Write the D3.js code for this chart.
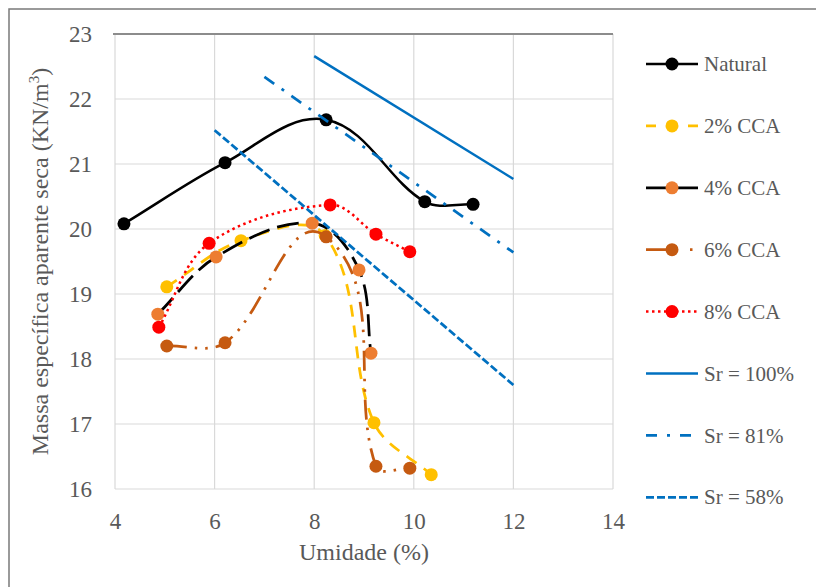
<!DOCTYPE html>
<html><head><meta charset="utf-8">
<script src="https://cdn.jsdelivr.net/npm/d3@7"></script>
<style>html,body{margin:0;padding:0;background:#fff;}svg{display:block;}</style>
</head><body>
<svg id="chart" width="816" height="587"></svg>
<script>
// ---- data ----
const xTicks = [4, 6, 8, 10, 12, 14];
const yTicks = [16, 17, 18, 19, 20, 21, 22, 23];

const naturalW = [4.18, 6.21, 8.24, 10.22, 11.19];
const naturalD = [20.08, 21.02, 21.68, 20.42, 20.38];
const cca2W = [5.04, 6.53, 8.22, 9.20, 10.35];
const cca2D = [19.11, 19.82, 19.90, 17.02, 16.22];
const cca4W = [4.86, 6.03, 7.96, 8.90, 9.14];
const cca4D = [18.69, 19.57, 20.09, 19.37, 18.09];
const cca6W = [5.04, 6.21, 8.24, 9.24, 9.92];
const cca6D = [18.20, 18.25, 19.88, 16.35, 16.32];
const cca8W = [4.88, 5.89, 8.32, 9.24, 9.92];
const cca8D = [18.49, 19.78, 20.37, 19.92, 19.65];
const sr100W = [8, 12];
const sr100D = [22.66, 20.77];
const sr81W = [7, 12];
const sr81D = [22.34, 19.64];
const sr58W = [6, 12];
const sr58D = [21.52, 17.60];

const seriesNames = ["Natural", "2% CCA", "4% CCA", "6% CCA", "8% CCA", "Sr = 100%", "Sr = 81%", "Sr = 58%"];

// ---- styles ----
const styles = [
  {w: naturalW, d: naturalD, line: "#000000", marker: "#000000", dash: null, legDash: null, width: 2.5, smooth: true},
  {w: cca2W, d: cca2D, line: "#FFC000", marker: "#FFC000", dash: "12,9", legDash: "10,32", width: 2.75, smooth: true},
  {w: cca4W, d: cca4D, line: "#000000", marker: "#ED7D31", dash: "22,8", legDash: null, width: 2.75, smooth: true},
  {w: cca6W, d: cca6D, line: "#C55A11", marker: "#C55A11", dash: "20,8,2.5,8,2.5,8", legDash: "32,12,2.5,20", width: 2.75, smooth: true},
  {w: cca8W, d: cca8D, line: "#FF0000", marker: "#FF0000", dash: "2.5,3.5", legDash: "2.5,3.5", width: 2.5, smooth: true},
  {w: sr100W, d: sr100D, line: "#0070C0", marker: null, dash: null, legDash: null, width: 2.5, smooth: false},
  {w: sr81W, d: sr81D, line: "#0070C0", marker: null, dash: "12,9,3,9", legDash: "11,10,3,10", width: 2.75, smooth: false},
  {w: sr58W, d: sr58D, line: "#0070C0", marker: null, dash: "8,3", legDash: "8,3", width: 2.75, smooth: false}
];

const svg = d3.select("#chart");
const textColor = "#595959";
const font = "'Liberation Serif', 'Times New Roman', serif";

// outer frame (cropped on right/bottom in the reference)
svg.append("rect").attr("x", 9).attr("y", 9).attr("width", 830).attr("height", 600)
  .attr("fill", "#fff").attr("stroke", "#7a7a7a").attr("stroke-width", 1.5);

const plot = {left: 115, right: 613, top: 34, bottom: 489};
const x = d3.scaleLinear().domain([4, 14]).range([plot.left, plot.right]);
const y = d3.scaleLinear().domain([16, 23]).range([plot.bottom, plot.top]);

// Spreadsheet-style smoothing: Bezier segments whose control points follow the
// neighbour direction, scaled by the length of the segment itself.
function smoothPath(px) {
  const p = d3.path();
  const n = px.length;
  const unit = (a, b) => { const dx = b[0]-a[0], dy = b[1]-a[1]; const l = Math.hypot(dx, dy) || 1; return [dx/l, dy/l]; };
  p.moveTo(px[0][0], px[0][1]);
  for (let i = 0; i < n - 1; i++) {
    const a = px[i], b = px[i+1];
    const len = Math.hypot(b[0]-a[0], b[1]-a[1]) / 3;
    const t0 = i > 0 ? unit(px[i-1], b) : unit(a, b);
    const t1 = i + 2 < n ? unit(a, px[i+2]) : unit(a, b);
    p.bezierCurveTo(a[0] + t0[0]*len, a[1] + t0[1]*len, b[0] - t1[0]*len, b[1] - t1[1]*len, b[0], b[1]);
  }
  return p.toString();
}

// gridlines
const g = svg.append("g");
g.selectAll("line.gy").data(yTicks).join("line")
  .attr("x1", plot.left).attr("x2", plot.right)
  .attr("y1", d => y(d)).attr("y2", d => y(d))
  .attr("stroke", "#d9d9d9").attr("stroke-width", 1.2);
g.selectAll("line.gx").data(xTicks).join("line")
  .attr("y1", plot.top).attr("y2", plot.bottom)
  .attr("x1", d => x(d)).attr("x2", d => x(d))
  .attr("stroke", "#d9d9d9").attr("stroke-width", 1.2);
g.append("line").attr("x1", plot.left - 2).attr("x2", plot.right).attr("y1", plot.top).attr("y2", plot.top)
  .attr("stroke", "#8c8c8c").attr("stroke-width", 2);

// axes (labels only)
const xAxis = d3.axisBottom(x).tickValues(xTicks).tickFormat(d3.format("d")).tickSize(0).tickPadding(22);
const yAxis = d3.axisLeft(y).tickValues(yTicks).tickFormat(d3.format("d")).tickSize(0).tickPadding(23);
const gx = svg.append("g").attr("transform", `translate(0,${plot.bottom})`).call(xAxis);
const gy = svg.append("g").attr("transform", `translate(${plot.left},0)`).call(yAxis);
[gx, gy].forEach(a => {
  a.select(".domain").remove();
  a.selectAll("text").attr("fill", textColor).style("font-family", font).style("font-size", "23px");
});
gx.selectAll("text").attr("dy", "0.32em").attr("y", 33);

// axis titles
svg.append("text").attr("x", (plot.left + plot.right) / 2).attr("y", 560)
  .attr("text-anchor", "middle").attr("fill", textColor)
  .style("font-family", font).style("font-size", "24px").text("Umidade (%)");
svg.append("text")
  .attr("transform", `translate(48,${(plot.top + plot.bottom) / 2}) rotate(-90)`)
  .attr("text-anchor", "middle").attr("fill", textColor)
  .style("font-family", font).style("font-size", "24px")
  .html("Massa específica aparente seca (KN/m<tspan dy='-9' font-size='15px'>3</tspan><tspan dy='9'>)</tspan>");

// series
const series = svg.append("g");
const straight = d3.line().x(p => x(p[0])).y(p => y(p[1]));
styles.forEach((s, i) => {
  const pts = s.w.map((w, k) => [w, s.d[k]]);
  const px = pts.map(p => [x(p[0]), y(p[1])]);
  const gs = series.append("g");
  gs.append("path").attr("d", s.smooth ? smoothPath(px) : straight(pts)).attr("fill", "none")
    .attr("stroke", s.line).attr("stroke-width", s.width)
    .attr("stroke-dasharray", s.dash).attr("stroke-linecap", "butt");
  if (s.marker) {
    gs.selectAll("circle").data(pts).join("circle")
      .attr("cx", p => x(p[0])).attr("cy", p => y(p[1])).attr("r", 6.5)
      .attr("fill", s.marker);
  }
});

// legend
const leg = svg.append("g");
const legY0 = 64, legStep = 61.9;
styles.forEach((s, i) => {
  const yy = legY0 + i * legStep;
  leg.append("line").attr("x1", 646).attr("x2", 698).attr("y1", yy).attr("y2", yy)
    .attr("stroke", s.line).attr("stroke-width", s.width)
    .attr("stroke-dasharray", s.legDash);
  if (s.marker) {
    leg.append("circle").attr("cx", 672).attr("cy", yy).attr("r", 6.5).attr("fill", s.marker);
  }
  leg.append("text").attr("x", 704).attr("y", yy).attr("dy", "0.34em")
    .attr("fill", textColor).style("font-family", font).style("font-size", "21px")
    .text(seriesNames[i]);
});
</script>
</body></html>
